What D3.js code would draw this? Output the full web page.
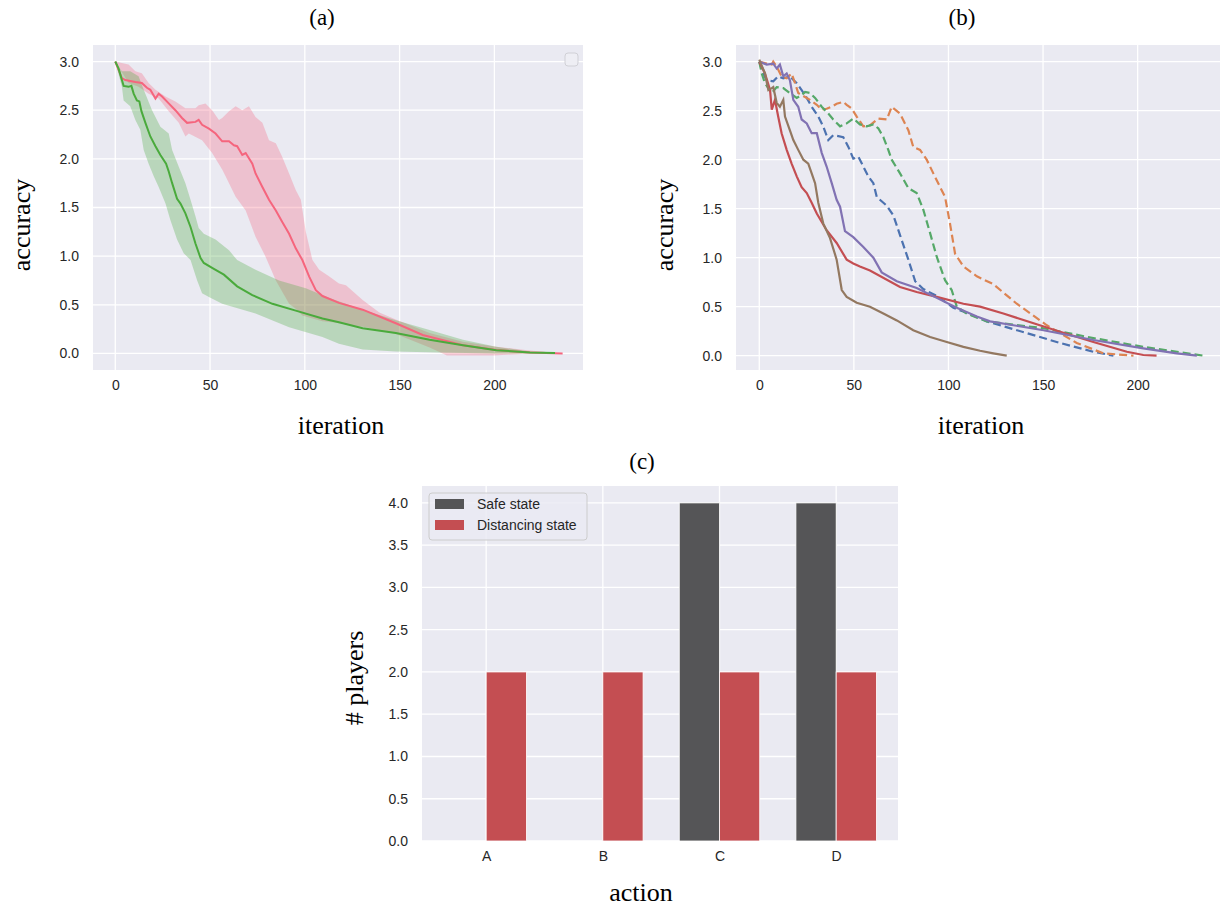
<!DOCTYPE html>
<html>
<head>
<meta charset="utf-8">
<script src="https://cdnjs.cloudflare.com/ajax/libs/d3/7.8.5/d3.min.js"></script>
<style>
body { margin: 0; background: #fff; }
.tick text { font-family: "Liberation Sans", Arial, sans-serif; font-size: 14px; fill: #262626; }
.axis-label, .panel-title { font-family: "Liberation Serif", "Times New Roman", serif; fill: #000; }
.legend-text { font-family: "Liberation Sans", Arial, sans-serif; font-size: 14px; fill: #262626; }
</style>
</head>
<body>
<svg id="fig" width="1220" height="907"></svg>
<script>
// ---- panel (a): mean curves with bands, [iteration, accuracy]
var greenMean = [[0,3.0],[1.7,2.93],[3.5,2.81],[4.4,2.75],[7,2.74],[8.5,2.75],[9.7,2.67],[11.4,2.6],[12.7,2.59],[13.8,2.49],[15.9,2.37],[18.5,2.23],[21.2,2.13],[23.8,2.04],[26.8,1.95],[28.2,1.87],[30,1.75],[32.6,1.59],[34.4,1.54],[37,1.44],[39.7,1.30],[42.3,1.13],[45,0.98],[46.7,0.93],[52,0.87],[57.3,0.81],[64.3,0.69],[72.3,0.60],[82.9,0.51],[95.2,0.44],[109.3,0.36],[118,0.32],[130.5,0.26],[148,0.21],[165.8,0.14],[183.4,0.085],[201,0.034],[218.7,0.01],[232,0.005]];
var greenHigh = [[0,3.0],[3.5,2.9],[7.9,2.9],[12.3,2.85],[15,2.71],[19.4,2.5],[23.8,2.33],[28.2,2.26],[30,2.09],[33.5,1.92],[37,1.75],[39.7,1.58],[42.3,1.41],[44,1.29],[46.7,1.23],[52.9,1.17],[60,1.06],[64.3,0.96],[74,0.86],[86.4,0.75],[100.5,0.67],[113,0.57],[130.5,0.45],[148,0.34],[165.8,0.24],[183.4,0.14],[201,0.07],[218.7,0.02],[232,0.005]];
var greenLow = [[0,3.0],[3.5,2.74],[4.4,2.6],[7.9,2.54],[10.6,2.4],[13.2,2.30],[15,2.09],[17.6,1.95],[20.3,1.82],[22.9,1.71],[26.5,1.54],[29.1,1.37],[32.6,1.17],[36.1,1.03],[39.7,0.96],[43.2,0.75],[45.8,0.62],[49.4,0.58],[56.4,0.51],[74,0.41],[91.7,0.27],[109.3,0.17],[118,0.10],[130.5,0.04],[148,0.02],[170,0.01],[200,0.0],[232,0.0]];

var redMean = [[0,3.0],[3.5,2.83],[5.3,2.81],[10.6,2.79],[14,2.78],[16.7,2.73],[18.5,2.71],[21.2,2.62],[22.9,2.67],[24.7,2.64],[28.2,2.57],[31.7,2.50],[35.2,2.42],[37.9,2.37],[42.3,2.38],[44,2.40],[45.8,2.35],[49.4,2.31],[52.9,2.26],[56.4,2.18],[60,2.18],[62.6,2.14],[64.3,2.13],[67,2.04],[68.8,2.06],[72.3,1.95],[74,1.85],[77.6,1.71],[81.1,1.58],[84.7,1.47],[88.1,1.35],[91.7,1.23],[95.2,1.08],[98.7,0.96],[102.3,0.79],[105.8,0.65],[109.3,0.59],[118,0.52],[130.5,0.45],[148,0.31],[162.2,0.19],[183.4,0.085],[201,0.035],[218.7,0.01],[236,0.0]];
var redHigh = [[0,3.0],[7,2.97],[10.6,2.9],[14,2.88],[17.6,2.78],[21.2,2.71],[26.5,2.64],[31.7,2.59],[37,2.52],[42.3,2.52],[44,2.55],[47.6,2.57],[51.1,2.50],[54.7,2.40],[56.4,2.42],[60,2.49],[63.5,2.54],[67,2.50],[70.5,2.54],[74,2.43],[77.6,2.37],[81.1,2.19],[84.7,2.16],[88.1,2.02],[91.7,1.85],[95.2,1.68],[97.9,1.58],[100.5,1.25],[104,0.96],[107.6,0.86],[112.9,0.79],[118,0.72],[121.7,0.70],[130.5,0.55],[139.3,0.42],[148,0.35],[165.8,0.21],[183.4,0.12],[201,0.07],[218.7,0.03],[236,0.0]];
var redLow = [[0,3.0],[7,2.78],[12.3,2.74],[17.6,2.67],[22.9,2.62],[28.2,2.49],[33.5,2.37],[37,2.23],[38.8,2.26],[45.8,2.19],[51.1,2.06],[56.4,1.89],[58.2,1.82],[63.5,1.61],[68.8,1.47],[74,1.20],[79.4,0.99],[84.7,0.75],[91.7,0.51],[95.2,0.46],[98.7,0.39],[102.3,0.37],[109.3,0.33],[114.6,0.32],[132.3,0.27],[148,0.2],[165.8,0.06],[175,-0.02],[200,-0.02],[218.7,0.0],[236,0.0]];

// ---- panel (b): individual runs
var runBlue = [[0,3.0],[2.1,2.88],[3.9,2.81],[7.4,2.80],[10,2.85],[12.7,2.83],[16.2,2.85],[19.8,2.78],[22.4,2.71],[25.1,2.63],[27.7,2.54],[31.2,2.44],[33.8,2.34],[36.5,2.20],[39.1,2.25],[44.4,2.23],[47.1,2.13],[49.7,2.01],[52.4,2.03],[55,1.93],[57.6,1.83],[60.3,1.76],[62.1,1.62],[67.4,1.53],[70.9,1.43],[74.4,1.23],[78.8,0.98],[82.4,0.76],[86.7,0.68],[93.8,0.61],[102.6,0.49],[107.9,0.45],[120.3,0.35],[141.4,0.23],[159,0.13],[176.6,0.04],[187.2,0.0]];
var runOrange = [[0,3.0],[3.9,2.98],[6.6,2.97],[7.4,3.0],[9.2,2.95],[11.8,2.85],[14.5,2.83],[17.1,2.88],[18.9,2.78],[20.6,2.68],[24.2,2.64],[26.8,2.61],[30.4,2.56],[33,2.51],[35.6,2.52],[38.3,2.54],[40.9,2.57],[44.4,2.59],[46.2,2.56],[48.9,2.52],[51.5,2.44],[55,2.34],[58.5,2.35],[62.9,2.42],[67.4,2.41],[70,2.54],[74.4,2.47],[78.8,2.30],[81.4,2.13],[85,2.10],[88.5,2.0],[92,1.86],[95.6,1.72],[98.2,1.62],[100.8,1.35],[103.5,1.04],[107.9,0.91],[115,0.81],[123.7,0.73],[136.1,0.53],[152,0.31],[167.8,0.13],[181.9,0.024],[197.8,0.0]];
var runGreen = [[0,3.0],[1.3,2.88],[3,2.78],[6.6,2.68],[9.2,2.74],[12.7,2.73],[16.2,2.68],[19.8,2.63],[22.4,2.66],[24.2,2.69],[26.8,2.68],[29.5,2.63],[33,2.54],[36.5,2.47],[39.1,2.41],[42.7,2.34],[46.2,2.37],[49.7,2.42],[53.2,2.36],[56.8,2.34],[60.3,2.36],[62.9,2.32],[65.6,2.23],[68.2,2.10],[70,2.0],[74.4,1.86],[78.8,1.71],[83.2,1.66],[86.7,1.49],[90.3,1.25],[93.8,1.01],[98.2,0.77],[101.7,0.67],[104.4,0.50],[109.7,0.43],[120.3,0.35],[150.2,0.28],[176.6,0.18],[203,0.09],[235,0.0]];
var runRed = [[0,3.0],[3,2.88],[5.7,2.71],[6.6,2.51],[8.3,2.61],[10,2.44],[11.8,2.27],[14.5,2.10],[17.1,1.96],[19.8,1.83],[22.4,1.72],[25.1,1.66],[27.7,1.56],[30.4,1.45],[35.6,1.28],[40.9,1.15],[46.2,0.98],[49.7,0.94],[53.2,0.91],[58.5,0.87],[74.4,0.70],[83.2,0.65],[93.8,0.60],[107.9,0.53],[116.7,0.50],[129,0.43],[159,0.245],[176.6,0.14],[194.3,0.04],[203,0.007],[210,0.0]];
var runPurple = [[0,3.0],[3.9,2.97],[7.4,2.98],[9.2,2.93],[10.9,2.97],[12.7,2.85],[14.5,2.88],[16.2,2.81],[18,2.61],[20.6,2.54],[22.4,2.41],[25.1,2.37],[27.7,2.27],[30.4,2.27],[33,2.07],[35.6,1.93],[38.3,1.76],[40.9,1.59],[42.7,1.52],[45.3,1.27],[49.7,1.21],[55,1.11],[60.3,1.0],[64.7,0.85],[72.7,0.76],[83.2,0.69],[93.8,0.59],[104.4,0.49],[115,0.40],[122,0.35],[150.2,0.26],[176.6,0.16],[203,0.075],[220.7,0.024],[231.3,0.0]];
var runBrown = [[0,3.02],[3,2.88],[4.8,2.71],[6.6,2.73],[7.4,2.74],[9.2,2.58],[10.9,2.54],[12.7,2.61],[13.6,2.44],[16.2,2.30],[18,2.20],[20.6,2.10],[23.3,2.0],[25.9,1.96],[27.7,1.86],[29.5,1.76],[31.2,1.56],[33.8,1.35],[37.4,1.2],[40.9,0.98],[43.6,0.67],[46.2,0.60],[51.5,0.54],[58.5,0.50],[65.6,0.43],[72.7,0.36],[81.4,0.26],[90.3,0.19],[99.1,0.14],[107.9,0.09],[116.7,0.05],[123.7,0.024],[130.8,0.0]];

// ---- panel (c): bars
var actions = ['A', 'B', 'C', 'D'];
var safeCounts = [0, 0, 4, 4];
var distancingCounts = [2, 2, 2, 2];
var barLegend = ['Safe state', 'Distancing state'];

var accTicks = [0, 0.5, 1.0, 1.5, 2.0, 2.5, 3.0];
var iterTicks = [0, 50, 100, 150, 200];
var playerTicks = [0, 0.5, 1.0, 1.5, 2.0, 2.5, 3.0, 3.5, 4.0];

var svg = d3.select('#fig');
var fmt = d3.format('.1f');

function drawFrame(g, w, h, x, y, xTicks, yTicks, xFormat) {
    g.append('rect').attr('width', w).attr('height', h).attr('fill', '#eaeaf2');

    g.append('g').selectAll('line.gx').data(xTicks).enter()
        .append('line')
        .attr('x1', function(d) { return x(d); })
        .attr('x2', function(d) { return x(d); })
        .attr('y1', 0).attr('y2', h)
        .attr('stroke', '#fff').attr('stroke-width', 1.3);

    g.append('g').selectAll('line.gy').data(yTicks).enter()
        .append('line')
        .attr('y1', function(d) { return y(d); })
        .attr('y2', function(d) { return y(d); })
        .attr('x1', 0).attr('x2', w)
        .attr('stroke', '#fff').attr('stroke-width', 1.3);

    var xAxis = g.append('g')
        .attr('transform', 'translate(0,' + h + ')')
        .call(d3.axisBottom(x).tickValues(xTicks).tickSize(0).tickPadding(10).tickFormat(xFormat));
    xAxis.select('.domain').remove();

    var yAxis = g.append('g')
        .call(d3.axisLeft(y).tickValues(yTicks).tickSize(0).tickPadding(14).tickFormat(fmt));
    yAxis.select('.domain').remove();
}

function label(x, y, txt, size, rotate) {
    svg.append('text')
        .attr('class', 'axis-label')
        .attr('text-anchor', 'middle')
        .attr('transform', 'translate(' + x + ',' + y + ')' + (rotate ? ' rotate(-90)' : ''))
        .style('font-size', size + 'px')
        .text(txt);
}

var line = function(x, y) {
    return d3.line().x(function(d) { return x(d[0]); }).y(function(d) { return y(d[1]); });
};

// ---------- (a)
var aW = 490, aH = 325;
var ga = svg.append('g').attr('transform', 'translate(93,45)');
var xa = d3.scaleLinear().domain([-11.75, 246.75]).range([0, aW]);
var ya = d3.scaleLinear().domain([-0.17, 3.17]).range([aH, 0]);
drawFrame(ga, aW, aH, xa, ya, iterTicks, accTicks, d3.format('d'));

var la = line(xa, ya);
ga.append('path').datum(redHigh.concat(redLow.slice().reverse()))
    .attr('d', la).attr('fill', '#f5657d').attr('fill-opacity', 0.3);
ga.append('path').datum(greenHigh.concat(greenLow.slice().reverse()))
    .attr('d', la).attr('fill', '#4aaa3c').attr('fill-opacity', 0.3);
ga.append('path').datum(redMean).attr('d', la)
    .attr('fill', 'none').attr('stroke', '#f5657d').attr('stroke-width', 2);
ga.append('path').datum(greenMean).attr('d', la)
    .attr('fill', 'none').attr('stroke', '#4aaa3c').attr('stroke-width', 2);

// empty legend box
ga.append('rect').attr('x', aW - 18).attr('y', 8).attr('width', 13).attr('height', 13).attr('rx', 3)
    .attr('fill', '#eeeef4').attr('stroke', '#d0d0d6');

// ---------- (b)
var bW = 490, bH = 325;
var gb = svg.append('g').attr('transform', 'translate(736,45)');
var xb = d3.scaleLinear().domain([-12.3, 246.7]).range([0, bW]);
var yb = d3.scaleLinear().domain([-0.146, 3.17]).range([bH, 0]);
drawFrame(gb, bW, bH, xb, yb, iterTicks, accTicks, d3.format('d'));

var lb = line(xb, yb);
var runs = [
    { data: runBlue, color: '#4c72b0', dash: '8,4' },
    { data: runOrange, color: '#dd8452', dash: '8,4' },
    { data: runGreen, color: '#55a868', dash: '8,4' },
    { data: runRed, color: '#c44e52', dash: null },
    { data: runPurple, color: '#8172b3', dash: null },
    { data: runBrown, color: '#937860', dash: null }
];
gb.selectAll('.run').data(runs).enter()
    .append('path')
    .attr('class', 'run')
    .attr('d', function(d) { return lb(d.data); })
    .attr('fill', 'none')
    .attr('stroke', function(d) { return d.color; })
    .attr('stroke-width', 2.2)
    .attr('stroke-dasharray', function(d) { return d.dash; });

// ---------- (c)
var cW = 476, cH = 355;
var gc = svg.append('g').attr('transform', 'translate(422,486)');
var xc = d3.scaleLinear().domain([-0.55, 3.53]).range([0, cW]);
var yc = d3.scaleLinear().domain([0, 4.2]).range([cH, 0]);
drawFrame(gc, cW, cH, xc, yc, [0, 1, 2, 3], playerTicks, function(d) { return actions[d]; });

var bw = 0.345;
gc.selectAll('.safe').data(safeCounts).enter()
    .append('rect')
    .attr('class', 'safe')
    .attr('x', function(d, i) { return xc(i - bw); })
    .attr('width', xc(bw) - xc(0))
    .attr('y', function(d) { return yc(d); })
    .attr('height', function(d) { return yc(0) - yc(d); })
    .attr('fill', '#555557')
    .attr('stroke', function(d) { return d > 0 ? '#fff' : 'none'; })
    .attr('stroke-width', 0.8);
gc.selectAll('.dist').data(distancingCounts).enter()
    .append('rect')
    .attr('class', 'dist')
    .attr('x', function(d, i) { return xc(i); })
    .attr('width', xc(bw) - xc(0))
    .attr('y', function(d) { return yc(d); })
    .attr('height', function(d) { return yc(0) - yc(d); })
    .attr('fill', '#c44e52')
    .attr('stroke', '#fff')
    .attr('stroke-width', 0.8);

var leg = gc.append('g').attr('transform', 'translate(7,7)');
leg.append('rect').attr('width', 158).attr('height', 47).attr('rx', 3)
    .attr('fill', '#eaeaf2').attr('fill-opacity', 0.8).attr('stroke', '#cccccc');
leg.selectAll('.sw').data(barLegend).enter()
    .append('rect')
    .attr('x', 6).attr('y', function(d, i) { return 6 + i * 21; })
    .attr('width', 29).attr('height', 10)
    .attr('fill', function(d, i) { return i == 0 ? '#555557' : '#c44e52'; });
leg.selectAll('.lt').data(barLegend).enter()
    .append('text')
    .attr('class', 'legend-text')
    .attr('x', 48).attr('y', function(d, i) { return 16 + i * 21; })
    .text(function(d) { return d; });

// ---------- titles and axis labels
label(322, 25, '(a)', 23);
label(962, 25, '(b)', 23);
label(642, 469, '(c)', 23);
label(341, 434, 'iteration', 26);
label(981, 434, 'iteration', 26);
label(641, 901, 'action', 26);
label(30, 225, 'accuracy', 26, true);
label(673, 225, 'accuracy', 26, true);
label(363, 678, '# players', 26, true);
</script>
</body>
</html>
